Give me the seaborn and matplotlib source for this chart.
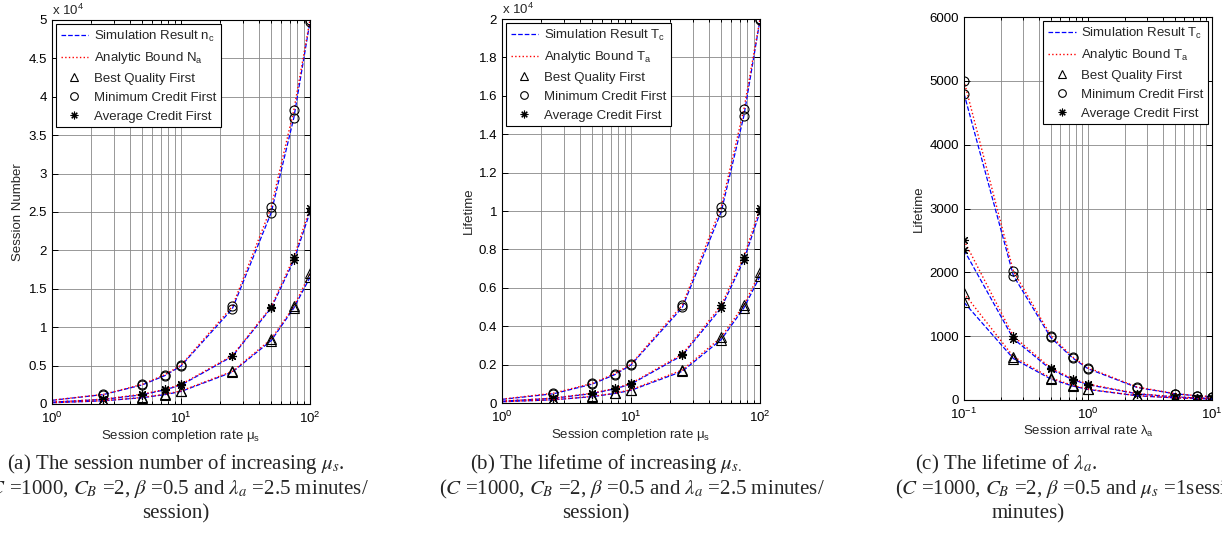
import matplotlib
matplotlib.use("Agg")
import matplotlib.pyplot as plt
import seaborn as sns
from matplotlib.lines import Line2D
from matplotlib.ticker import LogLocator, FuncFormatter, NullFormatter, MultipleLocator

# data
mu_s = [1, 2.5, 5, 7.5, 10, 25, 50, 75, 100]
lam_a = [0.1, 0.25, 0.5, 0.75, 1, 2.5, 5, 7.5, 10]

# (a) session number vs mu_s
num_mcf_sim = [480, 1230, 2480, 3700, 4950, 12400, 24900, 37300, 49800]
num_mcf_ana = [500, 1250, 2550, 3820, 5050, 12700, 25600, 38300, 50000]
num_acf_sim = [240, 600, 1200, 1850, 2450, 6200, 12500, 18700, 25000]
num_acf_ana = [250, 625, 1270, 1900, 2550, 6300, 12650, 19100, 25500]
num_bqf_sim = [160, 410, 820, 1220, 1630, 4150, 8250, 12500, 16500]
num_bqf_ana = [170, 430, 860, 1270, 1700, 4250, 8450, 12700, 17000]

# (b) lifetime vs mu_s
life_mcf_sim = [190, 480, 980, 1480, 1980, 4980, 9950, 14950, 19950]
life_mcf_ana = [200, 510, 1020, 1530, 2020, 5100, 10200, 15300, 20000]
life_acf_sim = [95, 245, 490, 740, 980, 2480, 4950, 7450, 9950]
life_acf_ana = [100, 255, 510, 760, 1020, 2540, 5080, 7620, 10150]
life_bqf_sim = [65, 165, 330, 495, 660, 1650, 3300, 4950, 6600]
life_bqf_ana = [68, 170, 345, 510, 690, 1720, 3420, 5100, 6800]

# (c) lifetime vs lambda_a
lam_mcf_sim = [4800, 1950, 980, 660, 490, 195, 98, 66, 50]
lam_mcf_ana = [5000, 2020, 1010, 675, 505, 202, 101, 68, 51]
lam_acf_sim = [2350, 960, 480, 320, 240, 96, 48, 32, 24]
lam_acf_ana = [2500, 1000, 500, 335, 250, 100, 50, 34, 25]
lam_bqf_sim = [1530, 650, 330, 220, 165, 66, 33, 22, 16]
lam_bqf_ana = [1670, 680, 345, 230, 170, 68, 34, 23, 17]

sns.set_style("ticks")
plt.rcParams["font.family"] = ["Liberation Sans", "DejaVu Sans"]
plt.rcParams["mathtext.fontset"] = "custom"
plt.rcParams["mathtext.rm"] = "Liberation Sans"
plt.rcParams["mathtext.it"] = "Liberation Sans:italic"

ASTER = (8, 2, 0)
FS = 9.5


def curve(ax, x, sim, ana, marker, first):
    sns.lineplot(x=x, y=sim, ax=ax, color="blue", linestyle="--", lw=0.9)
    sns.lineplot(x=x, y=ana, ax=ax, color="red", linestyle=":", lw=1.0)
    for ys in (sim, ana):
        sns.lineplot(x=x[first:], y=ys[first:], ax=ax, marker=marker, linestyle="none",
                     color="black", markerfacecolor="none", markeredgecolor="black",
                     markersize=6.5, markeredgewidth=0.8)


def style_axes(ax, xlim, ylim, ystep, ylabel, xlabel, scale=None):
    ax.set_xscale("log")
    ax.set_xlim(*xlim)
    ax.set_ylim(*ylim)
    ax.yaxis.set_major_locator(MultipleLocator(ystep))
    if scale:
        ax.yaxis.set_major_formatter(FuncFormatter(lambda v, p: f"{v / scale:g}"))
    ax.xaxis.set_major_locator(LogLocator(base=10))
    ax.xaxis.set_minor_locator(LogLocator(base=10, subs=range(2, 10)))
    ax.xaxis.set_minor_formatter(NullFormatter())
    ax.tick_params(which="both", direction="in", top=True, right=True, labelsize=FS,
                   colors="black", width=0.7)
    ax.tick_params(which="major", length=4)
    ax.tick_params(which="minor", length=2)
    ax.tick_params(axis="x", pad=5)
    ax.grid(True, which="major", color="#888888", lw=0.6)
    ax.grid(True, which="minor", axis="x", color="#888888", lw=0.6)
    for s in ax.spines.values():
        s.set_color("black")
        s.set_linewidth(0.8)
        s.set_visible(True)
    ax.set_ylabel(ylabel, fontsize=FS, labelpad=3)
    ax.set_xlabel(xlabel, fontsize=FS, labelpad=1)


def legend(ax, sym_a, loc):
    handles = [
        Line2D([], [], color="blue", ls="--", lw=0.9),
        Line2D([], [], color="red", ls=":", lw=1.0),
        Line2D([], [], ls="none", marker="^", mfc="none", mec="black", ms=5.5, mew=0.8),
        Line2D([], [], ls="none", marker="o", mfc="none", mec="black", ms=5.5, mew=0.8),
        Line2D([], [], ls="none", marker=ASTER, mfc="none", mec="black", ms=5.5, mew=0.8),
    ]
    labels = [sym_a[0], sym_a[1], "Best Quality First", "Minimum Credit First",
              "Average Credit First"]
    leg = ax.legend(handles, labels, loc=loc, fontsize=FS, fancybox=False,
                    edgecolor="black", framealpha=1, handlelength=2.1, handletextpad=0.4,
                    borderpad=0.35, labelspacing=0.5, borderaxespad=0.3)
    leg.get_frame().set_linewidth(0.8)


W, H = 1222, 537
fig = plt.figure(figsize=(W / 100, H / 100), dpi=100)


def add_ax(l, r, t, b):
    return fig.add_axes([l / W, 1 - b / H, (r - l) / W, (b - t) / H])


ax1 = add_ax(52, 310, 20, 404)
ax2 = add_ax(502, 760, 19, 403)
ax3 = add_ax(964, 1212, 17, 400)

curve(ax1, mu_s, num_mcf_sim, num_mcf_ana, "o", 1)
curve(ax1, mu_s, num_acf_sim, num_acf_ana, ASTER, 1)
curve(ax1, mu_s, num_bqf_sim, num_bqf_ana, "^", 1)
style_axes(ax1, (1, 100), (0, 50000), 5000, "Session Number",
           "Session completion rate \u03bc$_\\mathrm{s}$", scale=1e4)
legend(ax1, ("Simulation Result n$_\\mathrm{c}$", "Analytic Bound N$_\\mathrm{a}$"), "upper left")
ax1.text(0, 1.004, "x 10$^4$", transform=ax1.transAxes, ha="left", va="bottom", fontsize=FS)

curve(ax2, mu_s, life_mcf_sim, life_mcf_ana, "o", 1)
curve(ax2, mu_s, life_acf_sim, life_acf_ana, ASTER, 1)
curve(ax2, mu_s, life_bqf_sim, life_bqf_ana, "^", 1)
style_axes(ax2, (1, 100), (0, 20000), 2000, "Lifetime",
           "Session completion rate \u03bc$_\\mathrm{s}$", scale=1e4)
legend(ax2, ("Simulation Result T$_\\mathrm{c}$", "Analytic Bound T$_\\mathrm{a}$"), "upper left")
ax2.text(0, 1.004, "x 10$^4$", transform=ax2.transAxes, ha="left", va="bottom", fontsize=FS)

curve(ax3, lam_a, lam_mcf_sim, lam_mcf_ana, "o", 0)
curve(ax3, lam_a, lam_acf_sim, lam_acf_ana, ASTER, 0)
curve(ax3, lam_a, lam_bqf_sim, lam_bqf_ana, "^", 0)
style_axes(ax3, (0.1, 10), (0, 6000), 1000, "Lifetime",
           "Session arrival rate \u03bb$_\\mathrm{a}$")
legend(ax3, ("Simulation Result T$_\\mathrm{c}$", "Analytic Bound T$_\\mathrm{a}$"), "upper right")

# captions (the reference itself is cropped at the left and right edges)
cap = dict(fontsize=15, family=["Liberation Serif", "DejaVu Serif"], math_fontfamily="stix",
           va="center")


def caption(x, y, s, ha="center"):
    fig.text(x / W, 1 - y / H, s, ha=ha, **cap)


caption(176, 464, "(a) The session number of increasing $\\mu_s$.")
caption(176, 489, "($C$ =1000, $C_B$ =2, $\\beta$ =0.5 and $\\lambda_a$ =2.5 minutes/")
caption(176, 514, "session)")
caption(606, 464, "(b) The lifetime of increasing $\\mu_{s.}$")
caption(632, 489, "($C$ =1000, $C_B$ =2, $\\beta$ =0.5 and $\\lambda_a$ =2.5 minutes/")
caption(596, 514, "session)")
caption(1006, 464, "(c) The lifetime of $\\lambda_a$.")
caption(895, 489, "($C$ =1000, $C_B$ =2, $\\beta$ =0.5 and $\\mu_s$ =1session/", ha="left")
caption(1028, 514, "minutes)")

fig.savefig("out.png", dpi=100)
